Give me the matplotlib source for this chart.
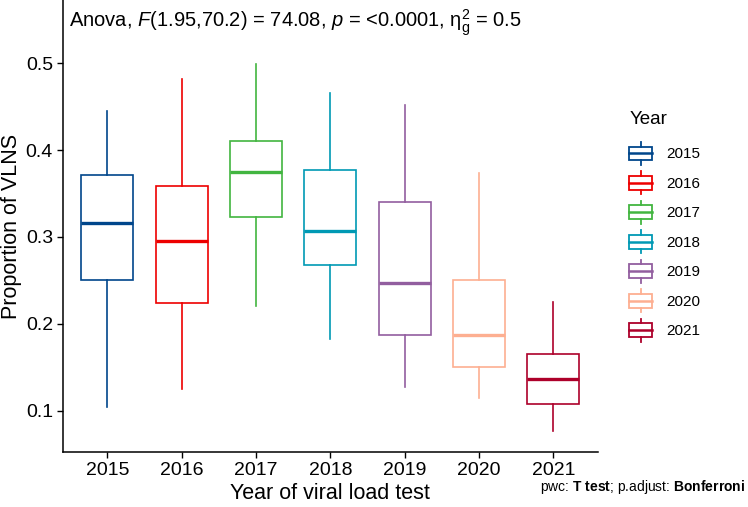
import matplotlib
matplotlib.use('Agg')
import matplotlib.pyplot as plt
from matplotlib.patches import Patch, Rectangle
from matplotlib.lines import Line2D
from matplotlib.legend_handler import HandlerBase

plt.rcParams['font.family'] = ['Liberation Sans', 'DejaVu Sans']
plt.rcParams['mathtext.fontset'] = 'custom'
plt.rcParams['mathtext.rm'] = 'Liberation Sans'
plt.rcParams['mathtext.it'] = 'Liberation Sans:italic'
plt.rcParams['mathtext.bf'] = 'Liberation Sans:bold'

years = ['2015', '2016', '2017', '2018', '2019', '2020', '2021']
whislo = [0.104, 0.125, 0.221, 0.183, 0.127, 0.115, 0.076]
q1 = [0.250, 0.224, 0.323, 0.268, 0.187, 0.150, 0.108]
med = [0.316, 0.295, 0.375, 0.307, 0.247, 0.187, 0.136]
q3 = [0.371, 0.359, 0.410, 0.377, 0.340, 0.251, 0.165]
whishi = [0.445, 0.482, 0.499, 0.466, 0.452, 0.374, 0.225]
colors = ['#00468B', '#ED0000', '#42B540', '#0099B4', '#925E9F', '#FDAF91', '#AD002A']


class BoxHandler(HandlerBase):
    # little boxplot glyph for the legend keys
    def create_artists(self, legend, orig_handle, xdescent, ydescent,
                       width, height, fontsize, trans):
        c = orig_handle.get_edgecolor()
        x0, y0 = -xdescent, -ydescent
        xm = x0 + width / 2
        box = Rectangle((x0, y0 + 0.2 * height), width, 0.6 * height,
                        facecolor='white', edgecolor=c, lw=1.3, transform=trans)
        mid = Line2D([x0, x0 + width], [y0 + 0.5 * height] * 2, color=c, lw=1.8, transform=trans)
        top = Line2D([xm, xm], [y0 + 0.8 * height, y0 + 1.0 * height], color=c, lw=1.3, transform=trans)
        bot = Line2D([xm, xm], [y0, y0 + 0.2 * height], color=c, lw=1.3, transform=trans)
        return [box, mid, top, bot]


fig = plt.figure(figsize=(7.48, 5.07), dpi=100)
ax = fig.add_axes([0.0838, 0.108, 0.7157, 0.892])

stats = []
for i in range(len(years)):
    stats.append({'med': med[i], 'q1': q1[i], 'q3': q3[i],
                  'whislo': whislo[i], 'whishi': whishi[i], 'fliers': []})
pos = list(range(1, len(years) + 1))
bp = ax.bxp(stats, positions=pos, widths=0.7, showcaps=False, patch_artist=True)
for i, c in enumerate(colors):
    bp['boxes'][i].set(facecolor='white', edgecolor=c, lw=1.2)
    bp['medians'][i].set(color=c, lw=2.4)
    bp['whiskers'][2 * i].set(color=c, lw=1.2)
    bp['whiskers'][2 * i + 1].set(color=c, lw=1.2)

ax.set_xlim(0.4, 7.6)
ax.set_ylim(0.052, 0.573)
ax.set_xticks(pos)
ax.set_xticklabels(years)
ax.set_yticks([0.1, 0.2, 0.3, 0.4, 0.5])
ax.set_yticklabels(['0.1', '0.2', '0.3', '0.4', '0.5'])
ax.tick_params(labelsize=14, length=4, width=1, colors='black', pad=3)
ax.spines['top'].set_visible(False)
ax.spines['right'].set_visible(False)
ax.spines['left'].set_linewidth(1.1)
ax.spines['bottom'].set_linewidth(1.1)
ax.set_xlabel('Year of viral load test', fontsize=15.5, labelpad=3)
ax.set_ylabel('Proportion of VLNS', fontsize=15.5, labelpad=3)

ax.text(0.012, 0.95,
        r'Anova, $\it{F}$(1.95,70.2) = 74.08, $\it{p}$ = <0.0001, $\mathrm{\eta}^2_\mathrm{g}$ = 0.5',
        transform=ax.transAxes, fontsize=14.5, ha='left', va='center')

fig.text(0.997, 0.032, r'pwc: $\bf{T\ test}$; p.adjust: $\bf{Bonferroni}$',
         fontsize=10, ha='right', va='baseline')

handles = [Patch(edgecolor=c, facecolor='white') for c in colors]
leg = fig.legend(handles, years, title='Year', loc='upper left',
                 bbox_to_anchor=(0.823, 0.808), frameon=False, fontsize=11,
                 title_fontsize=13.5, handler_map={Patch: BoxHandler()},
                 handlelength=1.5, handleheight=1.9, labelspacing=0.45, handletextpad=0.9)
leg._legend_box.align = 'left'
leg._legend_box.sep = 10  # more room under the legend title

fig.savefig('out.png', dpi=100)
